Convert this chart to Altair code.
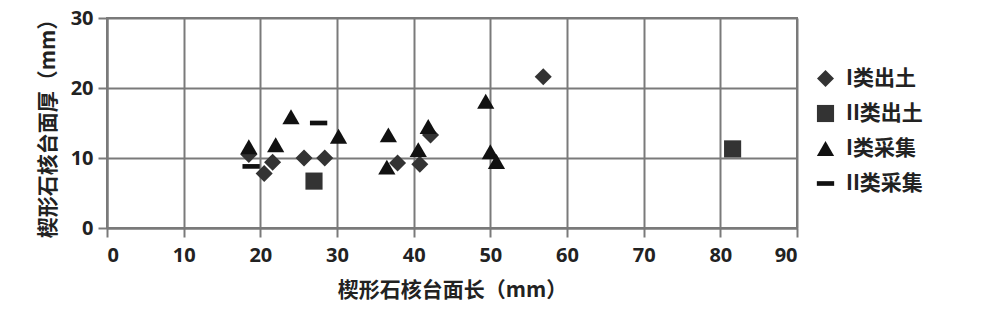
import altair as alt
import pandas as pd

series_names = ["I类出土", "II类出土", "I类采集", "II类采集"]

s1_x = [18.5, 20.5, 21.6, 25.7, 28.4, 37.9, 40.8, 42.2, 56.9]
s1_y = [10.5, 7.8, 9.4, 10.0, 10.0, 9.3, 9.1, 13.3, 21.6]

s2_x = [27.0, 81.6]
s2_y = [6.7, 11.3]

s3_x = [18.5, 22.0, 24.0, 30.2, 36.7, 36.5, 40.6, 41.9, 49.4, 50.0, 50.8]
s3_y = [11.6, 11.9, 15.9, 13.1, 13.3, 8.7, 11.2, 14.5, 18.1, 10.9, 9.5]

s4_x = [18.8, 27.6]
s4_y = [8.8, 15.0]

x_ticks = [0, 10, 20, 30, 40, 50, 60, 70, 80, 90]
y_ticks = [0, 10, 20, 30]

rows = []
for i, (xs, ys) in enumerate([(s1_x, s1_y), (s2_x, s2_y), (s3_x, s3_y), (s4_x, s4_y)]):
    for xv, yv in zip(xs, ys):
        rows.append({"series": series_names[i], "order": i, "x": xv, "y": yv})
df = pd.DataFrame(rows)

dash_path = "M -1 -0.27 L 1 -0.27 L 1 0.27 L -1 0.27 Z"

grid_color = "#7a7a7a"
tick_font = "Open Sans"
cjk_font = "Noto Sans CJK SC"

chart = alt.Chart(df).mark_point(filled=True, opacity=1, strokeWidth=0).encode(
    x=alt.X("x:Q", scale=alt.Scale(domain=[0, 90], nice=False),
            axis=alt.Axis(values=x_ticks, title="楔形石核台面长（mm）", format="d")),
    y=alt.Y("y:Q", scale=alt.Scale(domain=[0, 30], nice=False),
            axis=alt.Axis(values=y_ticks, title="楔形石核台面厚（mm）", format="d")),
    shape=alt.Shape("series:N",
                    scale=alt.Scale(domain=series_names,
                                    range=["diamond", "square", "triangle-up", dash_path]),
                    legend=alt.Legend(title=None)),
    color=alt.Color("series:N",
                    scale=alt.Scale(domain=series_names,
                                    range=["#333333", "#333333", "#111111", "#111111"]),
                    legend=alt.Legend(title=None)),
    size=alt.Size("series:N",
                  scale=alt.Scale(domain=series_names, range=[290, 300, 340, 380]),
                  legend=None),
    order=alt.Order("order:Q"),
).properties(
    width=690,
    height=210,
    autosize=alt.AutoSizeParams(type="none"),
    padding={"left": 107, "top": 18, "right": 203, "bottom": 87},
).configure_view(
    stroke=grid_color, strokeWidth=2
).configure_axis(
    grid=True,
    gridColor=grid_color,
    gridWidth=2,
    gridOpacity=1,
    domainColor=grid_color,
    domainWidth=2,
    tickColor=grid_color,
    tickWidth=2,
    tickSize=9,
    labelFont=tick_font,
    labelFontSize=20,
    labelFontWeight="bold",
    labelColor="#222222",
    titleFont=cjk_font,
    titleFontSize=21,
    titleFontWeight="bold",
    titleColor="#222222",
).configure_axisX(
    labelPadding=8,
    titlePadding=14,
).configure_axisY(
    labelPadding=5,
    titlePadding=12,
).configure_legend(
    orient="none",
    legendX=708,
    legendY=50,
    labelFont=cjk_font,
    labelFontSize=21,
    labelFontWeight="bold",
    labelColor="#222222",
    symbolSize=260,
    rowPadding=13,
    labelOffset=10,
    symbolStrokeWidth=0,
)

chart.save("out.html", embed_options={"renderer": "svg", "actions": False})
